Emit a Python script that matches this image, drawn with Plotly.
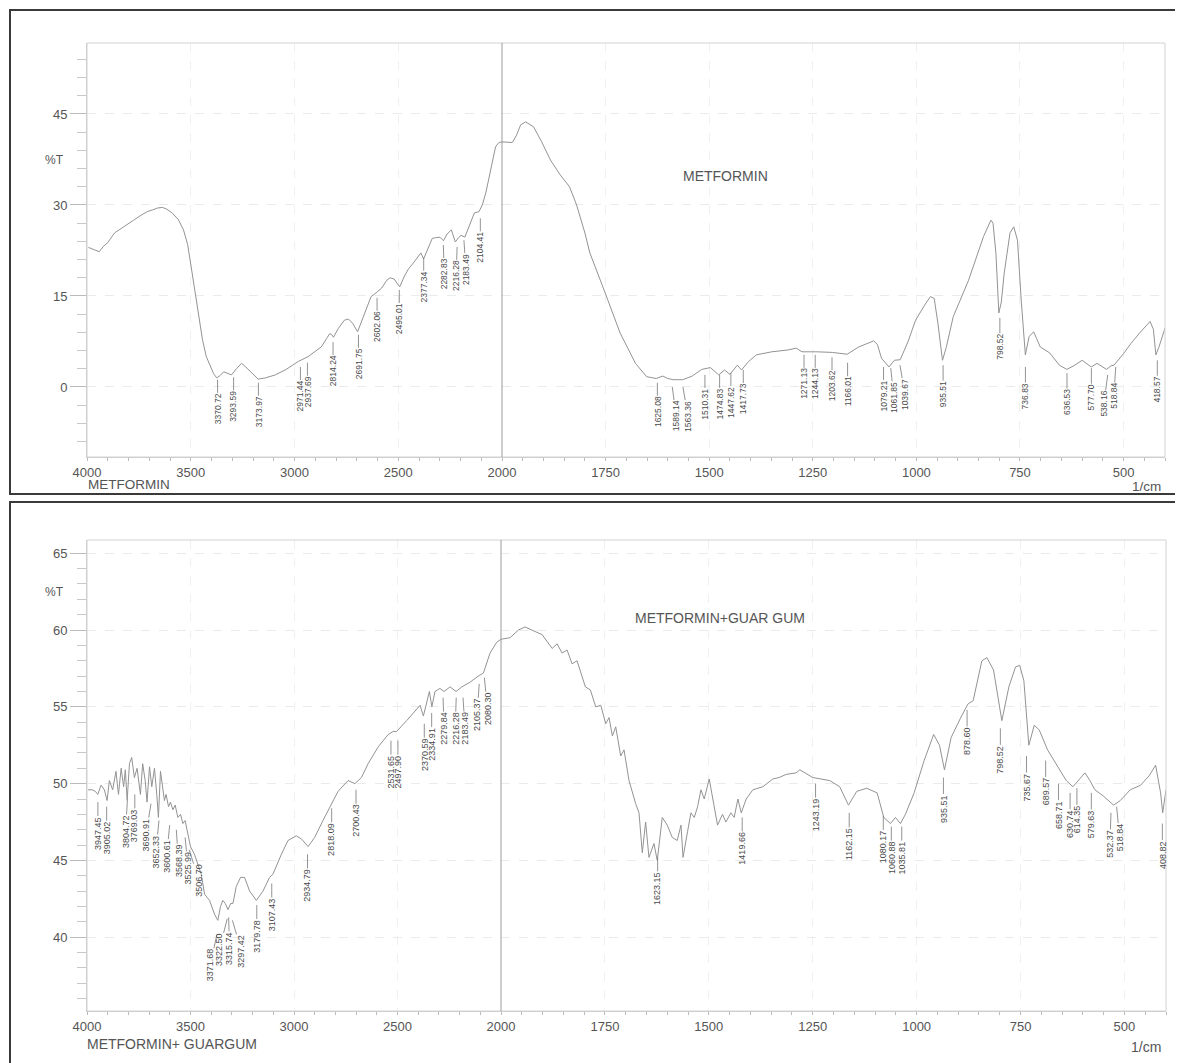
import numpy as np
import plotly.graph_objects as go

# ---------------- data ----------------
# Top spectrum: METFORMIN (wavenumber, %T)
top_wn = [3993, 3965, 3941, 3920, 3900, 3867, 3830, 3800, 3775, 3740, 3710, 3683, 3660, 3637,
          3615, 3590, 3560, 3535, 3515, 3498, 3485, 3470, 3455, 3443, 3425, 3406, 3390, 3375,
          3358, 3341, 3322, 3304, 3280, 3255, 3235, 3212, 3190, 3175, 3140, 3092, 3040, 2982,
          2935, 2900, 2871, 2845, 2830, 2820, 2812, 2790, 2760, 2740, 2720, 2696, 2670, 2645,
          2631, 2607, 2580, 2555, 2539, 2520, 2505, 2493, 2470, 2450, 2428, 2405, 2391, 2378,
          2360, 2336, 2320, 2299, 2282, 2265, 2244, 2235, 2225, 2210, 2197, 2179, 2160, 2133,
          2111, 2095, 2078, 2055, 2031, 2015, 2000,
          1975, 1965, 1955, 1943, 1924, 1905, 1883, 1860, 1837, 1820, 1800, 1788, 1765, 1751,
          1715, 1678, 1651, 1628, 1612, 1600, 1587, 1564, 1541, 1518, 1497, 1477, 1463, 1450,
          1432, 1422, 1405, 1386, 1349, 1310, 1290, 1276, 1240, 1203, 1167, 1139, 1103, 1094,
          1084, 1075, 1066, 1053, 1039, 1020, 1002, 980, 966, 957, 948, 937, 928, 911, 874, 838,
          820, 815, 808, 801, 795, 788, 774, 765, 756, 747, 737, 728, 717, 710, 701, 678, 655,
          637, 620, 600, 578, 564, 541, 530, 523, 500, 482, 460, 436, 428, 422, 415, 400]
top_t = [23.0, 22.6, 22.3, 23.2, 23.8, 25.4, 26.3, 27.0, 27.5, 28.3, 28.9, 29.2, 29.5, 29.6,
         29.3, 28.7, 27.6, 25.9, 23.5, 19.8, 17.0, 14.3, 10.8, 7.7, 5.0, 3.3, 2.2, 1.5,
         1.9, 2.5, 2.3, 2.0, 3.0, 3.9, 3.3, 2.5, 1.7, 1.3, 1.5, 2.0, 2.9, 4.2,
         5.0, 5.8, 6.6, 8.0, 8.8, 8.6, 8.2, 9.6, 11.0, 11.2, 10.5, 9.1, 11.5, 13.8,
         14.9, 15.5, 16.3, 17.6, 18.0, 17.8, 17.0, 16.5, 18.3, 19.5, 20.4, 21.5, 22.1, 21.1,
         22.6, 24.5, 24.6, 24.7, 24.1, 25.2, 25.9, 25.0, 23.9, 24.6, 25.0, 24.7, 26.5, 28.7,
         28.9, 30.0, 32.0, 35.5, 39.6, 40.3, 40.4,
         40.3, 41.5, 43.2, 43.7, 42.9, 40.5, 37.4, 35.0, 33.0, 30.0, 25.4, 22.1, 18.2, 15.5,
         8.9, 3.9, 1.7, 1.4, 1.8, 1.4, 1.2, 1.2, 1.8, 2.9, 3.2, 2.0, 2.8, 2.1,
         3.6, 2.8, 4.2, 5.3, 5.8, 6.1, 6.4, 5.8, 5.8, 5.7, 5.4, 6.6, 7.6, 7.0,
         4.7, 4.0, 3.3, 4.4, 4.5, 7.5, 11.0, 13.5, 14.9, 14.6, 10.5, 4.4, 6.5, 11.6, 17.6, 24.8,
         27.5, 27.0, 22.0, 12.2, 14.0, 18.8, 25.4, 26.4, 24.2, 14.3, 5.3, 8.3, 9.1, 8.0, 6.6, 5.6, 3.6,
         2.9, 3.5, 4.4, 3.3, 3.9, 2.9, 3.5, 3.6, 5.5, 7.2, 9.0, 10.8, 9.5, 5.3, 6.5, 9.7]

# Bottom spectrum: METFORMIN + GUAR GUM
bot_wn = [3995, 3975, 3960, 3948, 3932, 3916, 3903, 3892, 3876, 3860, 3848, 3835, 3823, 3815,
          3806, 3795, 3784, 3771, 3758, 3742, 3731, 3719, 3710, 3698, 3687, 3674, 3663, 3655,
          3645, 3634, 3626, 3618, 3606, 3597, 3585, 3574, 3561, 3548, 3537, 3526, 3513, 3500,
          3481, 3465, 3448, 3432, 3408, 3384, 3368, 3355, 3344, 3332, 3319, 3306, 3295, 3279,
          3258, 3239, 3214, 3182, 3150, 3118, 3102, 3061, 3029, 2989, 2964, 2932, 2900, 2860,
          2819, 2787, 2739, 2706, 2674, 2642, 2593, 2545, 2521, 2504, 2456, 2391, 2375, 2346,
          2334, 2319, 2295, 2275, 2246, 2217, 2189, 2150, 2110, 2085, 2053, 2021, 2000,
          1978, 1958, 1942, 1926, 1901, 1877, 1865, 1853, 1841, 1829, 1817, 1797, 1785, 1772,
          1760, 1748, 1740, 1732, 1724, 1712, 1704, 1692, 1684, 1676, 1668, 1660, 1652, 1644,
          1632, 1624, 1612, 1600, 1588, 1576, 1567, 1562, 1551, 1543, 1535, 1527, 1519, 1511,
          1499, 1491, 1479, 1467, 1459, 1447, 1439, 1430, 1422, 1410, 1394, 1370, 1346, 1331,
          1314, 1290, 1281, 1250, 1209, 1185, 1164, 1144, 1120, 1095, 1079, 1063, 1051, 1039,
          1027, 1006, 982, 959, 945, 933, 917, 892, 876, 864, 843, 831, 815, 795, 778, 762,
          752, 742, 730, 717, 705, 685, 669, 652, 640, 624, 612, 595, 583, 571, 551, 526, 510,
          486, 461, 441, 425, 413, 408, 400]
bot_t = [49.6, 49.6, 49.5, 49.3, 49.9, 49.6, 48.9, 50.2, 49.6, 50.8, 49.3, 51.0, 49.8, 50.9,
         48.9, 51.3, 51.7, 50.4, 51.0, 49.3, 51.3, 50.2, 48.8, 51.1, 49.8, 51.0, 49.3, 47.8,
         50.8, 49.6, 48.9, 49.3, 48.5, 48.8, 48.3, 48.6, 47.8, 48.0, 47.4, 47.6, 46.7, 45.9,
         45.4, 44.8, 44.1, 42.8, 42.4, 41.5, 41.1, 42.0, 42.4, 42.2, 41.8, 42.2, 42.2, 43.3,
         43.9, 43.9, 43.0, 42.4, 43.0, 43.9, 44.1, 45.4, 46.3, 46.6, 46.4, 45.9, 46.5, 47.6,
         48.7, 49.5, 50.2, 50.0, 50.4, 51.3, 52.4, 53.2, 53.4, 53.4, 54.1, 55.1, 54.4, 56.0,
         55.0, 56.0, 56.2, 56.0, 56.3, 56.0, 56.3, 56.6, 57.0, 57.2, 58.5, 59.2, 59.4,
         59.5, 60.0, 60.2, 60.0, 59.7, 58.8, 59.1, 58.5, 58.7, 57.8, 58.0, 56.3, 56.1, 55.0,
         55.1, 53.9, 54.3, 53.1, 53.7, 51.8, 52.2, 50.2, 49.4, 48.7, 48.1, 45.5, 47.5, 45.2,
         46.1, 45.0, 47.8, 47.3, 46.5, 46.3, 47.3, 45.2, 46.9, 48.1, 47.8, 48.5, 49.6, 49.0,
         50.3, 49.0, 47.3, 48.0, 47.5, 48.1, 47.8, 49.0, 48.1, 49.0, 49.6, 49.8, 50.3, 50.4,
         50.6, 50.7, 50.9, 50.4, 50.2, 49.8, 48.6, 49.5, 49.7, 49.4, 47.8, 47.4, 47.8, 47.4,
         48.0, 49.4, 51.5, 53.2, 52.5, 50.9, 53.0, 54.4, 55.2, 55.4, 58.0, 58.2, 57.4, 54.1, 56.3, 57.6,
         57.7, 56.7, 52.5, 53.8, 53.5, 52.2, 51.5, 50.7, 50.2, 49.8, 50.2, 50.7, 50.2, 49.6, 49.2, 48.6, 48.9,
         49.6, 49.9, 50.5, 51.2, 49.4, 48.1, 49.6]

# Peak labels (wavenumber, %T where the leader line starts)
top_peaks = [3370.72, 3293.59, 3173.97, 2971.44, 2937.69, 2814.24, 2691.75, 2602.06, 2495.01,
             2377.34, 2282.83, 2216.28, 2183.49, 2104.41, 1625.08, 1589.14, 1563.36, 1510.31,
             1474.83, 1447.62, 1417.73, 1271.13, 1244.13, 1203.62, 1166.01, 1079.21, 1061.85,
             1039.67, 935.51, 798.52, 736.83, 636.53, 577.70, 538.16, 518.84, 418.57]
top_peak_t = [1.2, 1.6, 0.7, 3.3, 4.0, 7.4, 8.6, 14.7, 16.0,
              21.3, 23.4, 23.1, 24.2, 27.8, 0.7, 0.0, 0.0, 2.0,
              2.0, 2.3, 2.8, 5.3, 5.3, 4.9, 4.0, 3.3, 3.1,
              3.6, 3.6, 11.4, 3.3, 2.3, 3.1, 2.0, 3.3, 4.4]

bot_peaks = [3947.45, 3905.02, 3804.72, 3769.03, 3690.91, 3652.33, 3600.61, 3568.39, 3525.99,
             3506.70, 3371.68, 3322.50, 3315.74, 3297.42, 3179.78, 3107.43, 2934.79, 2818.09,
             2700.43, 2531.65, 2497.90, 2370.59, 2334.91, 2279.84, 2216.28, 2183.49, 2105.37,
             2080.30, 1623.15, 1419.66, 1243.19, 1162.15, 1080.17, 1060.88, 1035.81, 935.51,
             878.60, 798.52, 735.67, 689.57, 658.71, 630.74, 614.35, 579.63, 532.37, 518.84,
             408.82]
bot_peak_t = [48.8, 48.5, 48.9, 49.3, 48.7, 47.6, 47.3, 47.0, 46.5,
              45.7, 40.2, 41.2, 41.3, 41.1, 42.1, 43.5, 45.4, 48.4,
              49.6, 52.8, 52.8, 53.9, 54.6, 55.6, 55.6, 55.6, 56.5,
              56.9, 45.2, 47.8, 50.0, 48.1, 47.9, 47.2, 47.2, 50.4,
              54.8, 53.6, 51.8, 51.5, 50.0, 49.4, 49.7, 49.4, 48.1, 48.5,
              47.4]

left_ticks = [4000, 3500, 3000, 2500, 2000]
right_ticks = [1750, 1500, 1250, 1000, 750, 500]

# label spreading (pixel shifts of crowded label texts)
top_label_dx = {2282.83: 1, 2216.28: -1, 2183.49: 2, 1589.14: 4, 1563.36: 5, 1061.85: 3,
                1039.67: 5, 538.16: -4, 518.84: -2}
bot_label_dx = {3804.72: -2, 3690.91: -5, 3652.33: -3, 3600.61: -3, 3568.39: 2, 3525.99: 3,
                3506.70: 10, 3371.68: -7, 3322.50: -8, 3315.74: 1, 3297.42: 9,
                2279.84: 1, 2216.28: -1, 2183.49: 2,
                2105.37: -2, 2080.30: 3, 518.84: 3, 532.37: -1}

# ---------------- layout helpers ----------------
W, H = 1183, 1063
OFF = 8  # page body margin of the html page
fx = lambda px: (px - OFF) / W
fy = lambda py: 1 - (py - OFF) / H

FONT = "Liberation Sans, Arial, sans-serif"
LINE_COL = "#939393"
TXT_COL = "#555555"

fig = go.Figure()

def add_spectrum(wn, t, xl, xr, ya):
    wn = np.asarray(wn, float)
    t = np.asarray(t, float)
    m1 = wn >= 2000
    m2 = wn <= 2000
    fig.add_trace(go.Scatter(x=wn[m1], y=t[m1], mode="lines", xaxis=xl, yaxis=ya,
                             line=dict(color=LINE_COL, width=1), showlegend=False,
                             hoverinfo="skip"))
    fig.add_trace(go.Scatter(x=wn[m2], y=t[m2], mode="lines", xaxis=xr, yaxis=ya,
                             line=dict(color=LINE_COL, width=1), showlegend=False,
                             hoverinfo="skip"))

add_spectrum(top_wn, top_t, "x", "x2", "y")
add_spectrum(bot_wn, bot_t, "x3", "x4", "y2")

def xaxis_cfg(dom, rng, ticks, minor_dtick, anchor):
    return dict(domain=dom, range=rng, anchor=anchor, tickmode="array", tickvals=ticks,
                ticktext=[str(v) for v in ticks], ticks="outside", ticklen=3,
                tickcolor="#bbbbbb", showline=True, linecolor="#cccccc", linewidth=1,
                minor=dict(tickmode="linear", tick0=0, dtick=minor_dtick, ticks="outside",
                           ticklen=3, tickcolor="#bbbbbb", showgrid=False),
                showgrid=True, gridcolor="#f0f0f0", griddash="dash", zeroline=False,
                automargin=False,
                tickfont=dict(family=FONT, size=13, color=TXT_COL))

def yaxis_cfg(dom, rng, dtick, minor_dtick, anchor):
    return dict(domain=dom, range=rng, anchor=anchor, tick0=0, dtick=dtick,
                ticks="outside", ticklen=16, tickcolor="#bbbbbb",
                showline=True, linecolor="#cccccc", linewidth=1,
                minor=dict(tick0=0, dtick=minor_dtick, ticks="outside", ticklen=9,
                           tickcolor="#c8c8c8", showgrid=False),
                showgrid=True, gridcolor="#ebebeb", griddash="dash", zeroline=False,
                automargin=False,
                tickfont=dict(family=FONT, size=13, color=TXT_COL))

TOP_Y = [fy(457), fy(43)]
BOT_Y = [fy(1011), fy(540)]

fig.update_layout(
    width=W, height=H, margin=dict(l=0, r=0, t=0, b=0, pad=0, autoexpand=False),
    paper_bgcolor="white", plot_bgcolor="white", showlegend=False,
    xaxis=xaxis_cfg([fx(87), fx(502)], [4000, 2000], left_ticks, 100, "y"),
    xaxis2=xaxis_cfg([fx(502), fx(1165)], [2000, 400], right_ticks, 50, "y"),
    xaxis3=xaxis_cfg([fx(87), fx(501)], [4000, 2000], left_ticks, 100, "y2"),
    xaxis4=xaxis_cfg([fx(501), fx(1166)], [2000, 400], right_ticks, 50, "y2"),
    yaxis=yaxis_cfg(TOP_Y, [-11.54, 56.7], 15, 3, "x"),
    yaxis2=yaxis_cfg(BOT_Y, [35.2, 65.86], 5, 1, "x3"),
)

shapes = []
# outer panel boxes
shapes.append(dict(type="rect", xref="paper", yref="paper", x0=fx(10), x1=1.02,
                   y0=fy(494), y1=fy(10), line=dict(color="#3a3a3a", width=2)))
shapes.append(dict(type="rect", xref="paper", yref="paper", x0=fx(10), x1=1.02,
                   y0=-0.02, y1=fy(502), line=dict(color="#3a3a3a", width=2)))
# plot frames
shapes.append(dict(type="rect", xref="paper", yref="paper", x0=fx(87), x1=fx(1165),
                   y0=TOP_Y[0], y1=TOP_Y[1], line=dict(color="#d2d2d2", width=1)))
shapes.append(dict(type="rect", xref="paper", yref="paper", x0=fx(87), x1=fx(1166),
                   y0=BOT_Y[0], y1=BOT_Y[1], line=dict(color="#d2d2d2", width=1)))
# 2000 cm-1 scale-change line
shapes.append(dict(type="line", xref="paper", yref="paper", x0=fx(502), x1=fx(502),
                   y0=TOP_Y[0], y1=TOP_Y[1], line=dict(color="#9a9a9a", width=1)))
shapes.append(dict(type="line", xref="paper", yref="paper", x0=fx(501), x1=fx(501),
                   y0=BOT_Y[0], y1=BOT_Y[1], line=dict(color="#9a9a9a", width=1)))
fig.update_layout(shapes=shapes)

ann = []

def peak_labels(peaks, vals, xl, xr, ya, size, ay, dxmap):
    for p, v in zip(peaks, vals):
        ann.append(dict(x=p, y=v, xref=xl if p >= 2000 else xr, yref=ya,
                        text=f"{p:.2f}", textangle=-90, showarrow=True, arrowhead=0,
                        arrowwidth=0.8, arrowcolor="#777777", ax=dxmap.get(p, 0), ay=ay,
                        standoff=0, borderpad=0,
                        font=dict(family=FONT, size=size, color="#4a4a4a")))

peak_labels(top_peaks, top_peak_t, "x", "x2", "y", 8.5, 29, top_label_dx)
peak_labels(bot_peaks, bot_peak_t, "x3", "x4", "y2", 9, 31, bot_label_dx)

def txt(text, x, y, size, xanchor="center", yanchor="middle", xref="paper", yref="paper"):
    ann.append(dict(text=text, x=x, y=y, xref=xref, yref=yref, showarrow=False,
                    xanchor=xanchor, yanchor=yanchor,
                    font=dict(family=FONT, size=size, color=TXT_COL)))

# %T labels
txt("%T", fx(54), fy(160), 12)
txt("%T", fx(54), fy(592), 12)
# panel titles
txt("METFORMIN", fx(725), fy(176), 14)
txt("METFORMIN+GUAR GUM", fx(720), fy(618), 14)
# x-axis captions
txt("METFORMIN", fx(86), fy(485), 13.5, xanchor="left")
txt("METFORMIN+ GUARGUM", fx(85), fy(1044), 14, xanchor="left")
txt("1/cm", fx(1163), fy(486), 13.5, xanchor="right")
txt("1/cm", fx(1163), fy(1047), 14, xanchor="right")

fig.update_layout(annotations=ann)

fig.write_html("out.html")
